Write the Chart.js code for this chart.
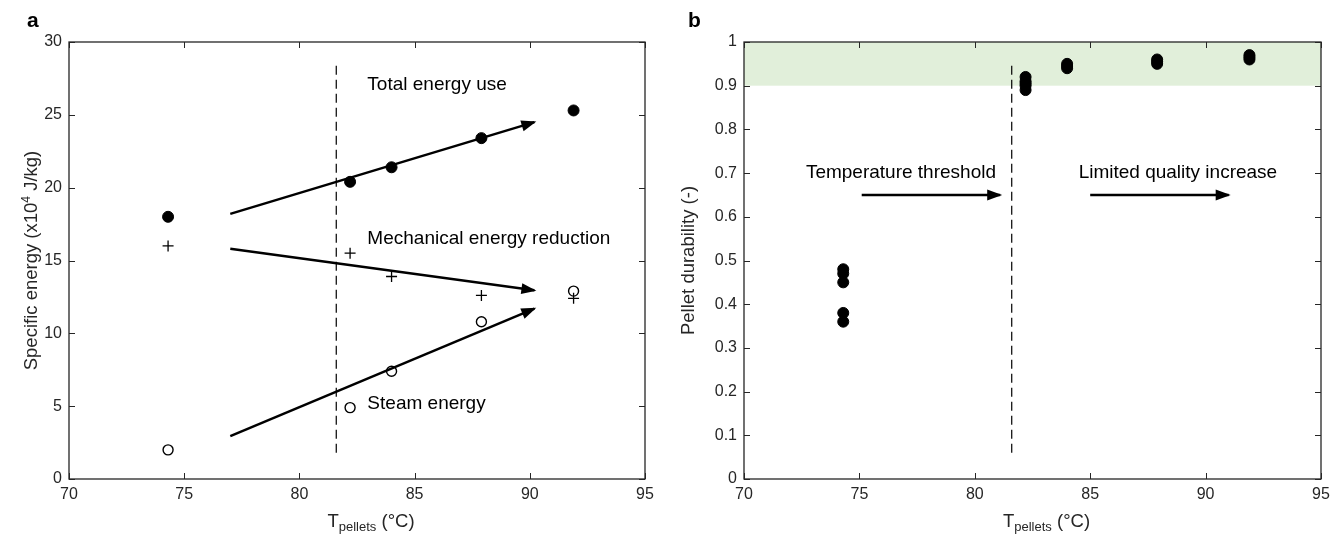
<!DOCTYPE html>
<html>
<head>
<meta charset="utf-8">
<script src="https://cdn.jsdelivr.net/npm/chart.js@4.4.1/dist/chart.umd.min.js"></script>
<style>
  body { margin: 0; background: #fff; }
  #wrap { position: relative; width: 1340px; height: 535px; }
  canvas { position: absolute; top: 0; }
</style>
</head>
<body>
<div id="wrap">
  <canvas id="chartA" width="670" height="535" style="left:0px"></canvas>
  <canvas id="chartB" width="670" height="535" style="left:670px"></canvas>
</div>
<script>
// ---- panel a: specific energy vs pellet temperature ----
const tempA = [74.3, 82.2, 84.0, 87.9, 91.9];
const totalEnergy = [18.0, 20.4, 21.4, 23.4, 25.3];
const mechEnergy = [16.0, 15.5, 13.9, 12.6, 12.4];
const steamEnergy = [2.0, 4.9, 7.4, 10.8, 12.9];

// trend arrows: [x0, y0, x1, y1]
const arrowTotal = [77.0, 18.2, 90.2, 24.5];
const arrowMech = [77.0, 15.8, 90.2, 12.95];
const arrowSteam = [77.0, 2.95, 90.2, 11.7];
const thresholdA = [81.6, 1.8, 28.4]; // x, y from, y to

// ---- panel b: pellet durability ----
const tempB = [74.3, 82.2, 84.0, 87.9, 91.9];
const durability = [
    [0.48, 0.47, 0.45, 0.38, 0.36],
    [0.92, 0.91, 0.905, 0.90, 0.89],
    [0.95, 0.945, 0.94],
    [0.96, 0.955, 0.95],
    [0.97, 0.965, 0.96]
];
const thresholdB = [81.6, 0.06, 0.947];
const arrowThreshold = [75.1, 0.65, 81.1, 0.65];
const arrowQuality = [85.0, 0.65, 91.0, 0.65];
const qualityBand = [0.9, 1.0];

const FONT = "'Liberation Sans', Arial, Helvetica, sans-serif";
const AXIS_COLOR = '#262626';

function pts(xs, ys) {
    return xs.map((x, i) => ({ x: x, y: ys[i] }));
}

function seg(a) {
    return [{ x: a[0], y: a[1] }, { x: a[2], y: a[3] }];
}

function lineSet(data, extra) {
    return Object.assign({
        data: data,
        showLine: true,
        pointRadius: 0,
        borderColor: '#000',
        borderWidth: 2.5,
        fill: false
    }, extra || {});
}

// draws a row of text pieces (for sub/superscripts), centred on cx
function drawRuns(ctx, runs, cx, cy) {
    let total = 0;
    runs.forEach(r => {
        ctx.font = r.size + 'px ' + FONT;
        r.w = ctx.measureText(r.t).width;
        total += r.w;
    });
    let x = cx - total / 2;
    ctx.textAlign = 'left';
    ctx.textBaseline = 'alphabetic';
    runs.forEach(r => {
        ctx.font = r.size + 'px ' + FONT;
        ctx.fillText(r.t, x, cy + (r.dy || 0));
        x += r.w;
    });
}

// box, inward ticks, band, arrow heads, titles and notes for one panel
function panelPlugin(spec) {
    return {
        id: 'panel_' + spec.letter,
        beforeDatasetsDraw(chart) {
            if (!spec.band) return;
            const { ctx, chartArea } = chart;
            const ys = chart.scales.y;
            const top = ys.getPixelForValue(spec.band[1]);
            const bot = ys.getPixelForValue(spec.band[0]);
            ctx.save();
            ctx.fillStyle = '#e1efda';
            ctx.fillRect(chartArea.left, top, chartArea.right - chartArea.left, bot - top);
            ctx.restore();
        },
        afterDatasetsDraw(chart) {
            const { ctx, chartArea } = chart;
            ctx.save();
            // arrow heads
            chart.data.datasets.forEach((ds, i) => {
                if (!ds.arrow) return;
                const p = chart.getDatasetMeta(i).data;
                const a = p[p.length - 2], b = p[p.length - 1];
                const ang = Math.atan2(b.y - a.y, b.x - a.x);
                const L = 13, W = 5.5;
                const c = Math.cos(ang), s = Math.sin(ang);
                ctx.fillStyle = '#000';
                ctx.beginPath();
                ctx.moveTo(b.x + c * 2, b.y + s * 2);
                ctx.lineTo(b.x - L * c + W * s, b.y - L * s - W * c);
                ctx.lineTo(b.x - L * c - W * s, b.y - L * s + W * c);
                ctx.closePath();
                ctx.fill();
            });
            // frame with inward ticks
            const { left, right, top, bottom } = chartArea;
            ctx.strokeStyle = AXIS_COLOR;
            ctx.lineWidth = 1.3;
            ctx.strokeRect(left, top, right - left, bottom - top);
            ctx.lineWidth = 1;
            ctx.beginPath();
            chart.scales.x.ticks.forEach(t => {
                const px = Math.round(chart.scales.x.getPixelForValue(t.value)) + 0.5;
                ctx.moveTo(px, bottom); ctx.lineTo(px, bottom - 6);
                ctx.moveTo(px, top); ctx.lineTo(px, top + 6);
            });
            chart.scales.y.ticks.forEach(t => {
                const py = Math.round(chart.scales.y.getPixelForValue(t.value)) + 0.5;
                ctx.moveTo(left, py); ctx.lineTo(left + 6, py);
                ctx.moveTo(right, py); ctx.lineTo(right - 6, py);
            });
            ctx.stroke();
            ctx.restore();
        },
        afterDraw(chart) {
            const { ctx, chartArea } = chart;
            const xs = chart.scales.x, ys = chart.scales.y;
            ctx.save();
            // panel letter
            ctx.fillStyle = '#000';
            ctx.font = 'bold 21px ' + FONT;
            ctx.textAlign = 'left';
            ctx.textBaseline = 'alphabetic';
            ctx.fillText(spec.letter, spec.letterX, 27);
            // notes in data coordinates
            ctx.font = '19px ' + FONT;
            ctx.textBaseline = 'middle';
            spec.notes.forEach(n => {
                ctx.textAlign = n.align;
                ctx.fillText(n.text, xs.getPixelForValue(n.x), ys.getPixelForValue(n.y));
            });
            // x title
            ctx.fillStyle = AXIS_COLOR;
            const cx = (chartArea.left + chartArea.right) / 2 + 14;
            drawRuns(ctx, [
                { t: 'T', size: 18.5 },
                { t: 'pellets', size: 13, dy: 4 },
                { t: ' (\u00B0C)', size: 18.5 }
            ], cx, 527);
            // y title
            ctx.translate(spec.yTitleX, (chartArea.top + chartArea.bottom) / 2);
            ctx.rotate(-Math.PI / 2);
            drawRuns(ctx, spec.yTitle, 0, 6);
            ctx.restore();
        }
    };
}

function tickLabel(v) {
    return String(Number(v.toFixed(2)));
}

function baseOptions(yMin, yMax, yStep, yWidth, padRight) {
    return {
        responsive: false,
        animation: false,
        layout: { padding: { left: 0, right: padRight, top: 42, bottom: 0 } },
        plugins: { legend: { display: false }, tooltip: { enabled: false } },
        scales: {
            x: {
                type: 'linear', min: 70, max: 95,
                grid: { display: false, drawTicks: false, tickLength: 0 }, border: { display: false },
                ticks: { stepSize: 5, padding: 6, color: AXIS_COLOR, font: { family: FONT, size: 16 }, callback: tickLabel },
                afterFit(scale) { scale.height = 56; }
            },
            y: {
                type: 'linear', min: yMin, max: yMax,
                grid: { display: false, drawTicks: false, tickLength: 0 }, border: { display: false },
                ticks: { stepSize: yStep, padding: 7, color: AXIS_COLOR, font: { family: FONT, size: 16 }, callback: tickLabel },
                afterFit(scale) { scale.width = yWidth; }
            }
        }
    };
}

// ---- chart a ----
new Chart(document.getElementById('chartA').getContext('2d'), {
    type: 'scatter',
    data: {
        datasets: [
            lineSet([{ x: thresholdA[0], y: thresholdA[1] }, { x: thresholdA[0], y: thresholdA[2] }],
                { borderWidth: 1.2, borderDash: [9, 5] }),
            lineSet(seg(arrowTotal), { arrow: true }),
            lineSet(seg(arrowMech), { arrow: true }),
            lineSet(seg(arrowSteam), { arrow: true }),
            { label: 'Total', data: pts(tempA, totalEnergy), pointRadius: 5.5, pointBackgroundColor: '#000', pointBorderColor: '#000', pointBorderWidth: 1 },
            { label: 'Mechanical', data: pts(tempA, mechEnergy), pointStyle: 'cross', pointRadius: 5.5, pointBorderColor: '#000', pointBorderWidth: 1.3 },
            { label: 'Steam', data: pts(tempA, steamEnergy), pointRadius: 5, pointBackgroundColor: '#fff', pointBorderColor: '#000', pointBorderWidth: 1.4 }
        ]
    },
    options: baseOptions(0, 30, 5, 69, 25),
    plugins: [panelPlugin({
        letter: 'a', letterX: 27, yTitleX: 31,
        yTitle: [
            { t: 'Specific energy (x10', size: 18.5 },
            { t: '4', size: 12, dy: -7 },
            { t: ' J/kg)', size: 18.5 }
        ],
        notes: [
            { text: 'Total energy use', x: 82.95, y: 27.05, align: 'left' },
            { text: 'Mechanical energy reduction', x: 82.95, y: 16.5, align: 'left' },
            { text: 'Steam energy', x: 82.95, y: 5.15, align: 'left' }
        ]
    })]
});

// ---- chart b ----
const durPoints = [];
tempB.forEach((t, i) => durability[i].forEach(v => durPoints.push({ x: t, y: v })));

new Chart(document.getElementById('chartB').getContext('2d'), {
    type: 'scatter',
    data: {
        datasets: [
            lineSet([{ x: thresholdB[0], y: thresholdB[1] }, { x: thresholdB[0], y: thresholdB[2] }],
                { borderWidth: 1.2, borderDash: [9, 5] }),
            lineSet(seg(arrowThreshold), { arrow: true }),
            lineSet(seg(arrowQuality), { arrow: true }),
            { label: 'Durability', data: durPoints, pointRadius: 5.5, pointBackgroundColor: '#000', pointBorderColor: '#000', pointBorderWidth: 1 }
        ]
    },
    options: baseOptions(0, 1, 0.1, 74, 19),
    plugins: [panelPlugin({
        letter: 'b', letterX: 18, yTitleX: 18, band: qualityBand,
        yTitle: [{ t: 'Pellet durability (-)', size: 18.5 }],
        notes: [
            { text: 'Temperature threshold', x: 76.8, y: 0.70, align: 'center' },
            { text: 'Limited quality increase', x: 88.8, y: 0.70, align: 'center' }
        ]
    })]
});
</script>
</body>
</html>
